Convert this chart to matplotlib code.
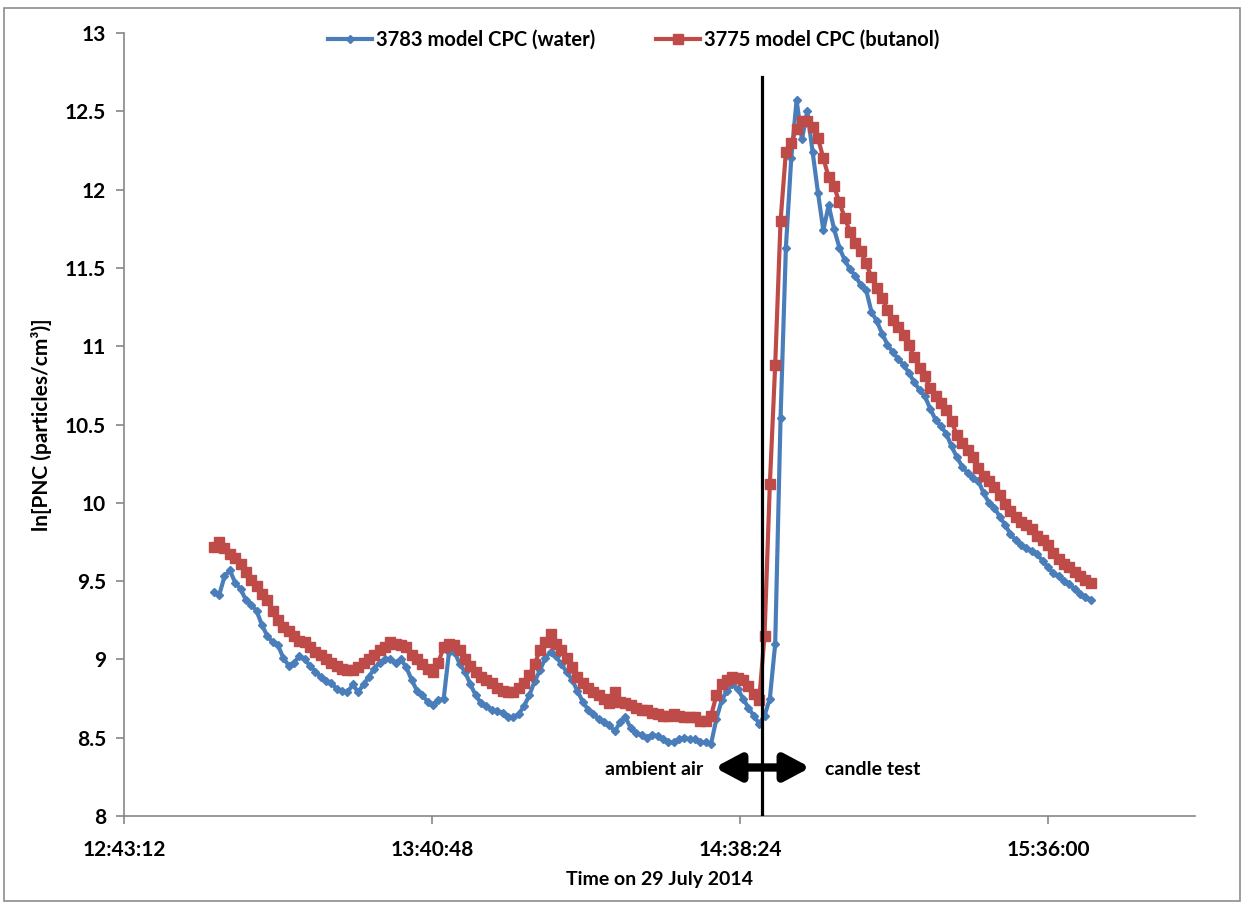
import pandas as pd
import matplotlib
matplotlib.use('Agg')
import matplotlib.pyplot as plt
import matplotlib.dates as mdates
from matplotlib.patches import Rectangle

plt.rcParams['font.family'] = ['Lato', 'DejaVu Sans']
plt.rcParams['font.weight'] = 'bold'
plt.rcParams['font.size'] = 14

# one reading per minute from 13:00
start_time = '2014-07-29 13:00:00'

water_ln = [
    9.43, 9.41, 9.53, 9.57, 9.49, 9.45, 9.38, 9.35, 9.31, 9.22,
    9.15, 9.11, 9.09, 9.01, 8.96, 8.98, 9.02, 9.00, 8.96, 8.92,
    8.89, 8.86, 8.85, 8.81, 8.80, 8.79, 8.84, 8.79, 8.84, 8.89,
    8.94, 8.98, 9.00, 9.00, 8.98, 9.00, 8.95, 8.87, 8.80, 8.77,
    8.73, 8.71, 8.74, 8.75, 9.05, 9.05, 8.97, 8.92, 8.84, 8.77,
    8.72, 8.70, 8.68, 8.67, 8.66, 8.63, 8.63, 8.65, 8.70, 8.77,
    8.86, 8.93, 9.01, 9.05, 9.02, 8.97, 8.92, 8.87, 8.80, 8.73,
    8.68, 8.65, 8.62, 8.60, 8.58, 8.54, 8.60, 8.63, 8.56, 8.53,
    8.52, 8.50, 8.52, 8.51, 8.49, 8.47, 8.47, 8.49, 8.50, 8.49,
    8.49, 8.47, 8.47, 8.46, 8.62, 8.74, 8.80, 8.84, 8.81, 8.75,
    8.69, 8.64, 8.59, 8.64, 8.75, 9.10, 10.54, 11.63, 12.20, 12.57,
    12.32, 12.50, 12.24, 11.98, 11.74, 11.90, 11.75, 11.63, 11.55, 11.49,
    11.45, 11.39, 11.36, 11.22, 11.16, 11.08, 11.01, 10.96, 10.92, 10.88,
    10.83, 10.77, 10.72, 10.68, 10.60, 10.53, 10.49, 10.44, 10.36, 10.29,
    10.23, 10.19, 10.16, 10.14, 10.06, 10.00, 9.97, 9.91, 9.86, 9.80,
    9.76, 9.73, 9.71, 9.69, 9.67, 9.63, 9.59, 9.55, 9.53, 9.50,
    9.48, 9.45, 9.42, 9.40, 9.38,
]

butanol_ln = [
    9.72, 9.75, 9.71, 9.67, 9.65, 9.61, 9.56, 9.51, 9.47, 9.42,
    9.38, 9.31, 9.25, 9.21, 9.18, 9.15, 9.12, 9.11, 9.08, 9.05,
    9.03, 9.00, 8.98, 8.96, 8.94, 8.93, 8.93, 8.95, 8.98, 9.00,
    9.03, 9.06, 9.08, 9.11, 9.10, 9.09, 9.08, 9.03, 9.00, 8.97,
    8.94, 8.92, 8.98, 9.08, 9.10, 9.09, 9.06, 9.00, 8.96, 8.92,
    8.89, 8.87, 8.85, 8.82, 8.80, 8.79, 8.79, 8.82, 8.85, 8.90,
    8.97, 9.06, 9.11, 9.16, 9.10, 9.06, 9.01, 8.95, 8.89, 8.85,
    8.82, 8.79, 8.77, 8.75, 8.72, 8.79, 8.73, 8.72, 8.71, 8.69,
    8.68, 8.68, 8.66, 8.65, 8.64, 8.64, 8.65, 8.64, 8.63, 8.63,
    8.63, 8.61, 8.61, 8.64, 8.77, 8.84, 8.87, 8.89, 8.88, 8.87,
    8.83, 8.78, 8.74, 9.15, 10.12, 10.88, 11.80, 12.24, 12.30, 12.39,
    12.44, 12.44, 12.40, 12.33, 12.20, 12.08, 12.02, 11.92, 11.82, 11.73,
    11.66, 11.61, 11.53, 11.44, 11.37, 11.31, 11.23, 11.17, 11.12, 11.07,
    11.01, 10.93, 10.86, 10.81, 10.73, 10.68, 10.64, 10.59, 10.52, 10.43,
    10.38, 10.34, 10.29, 10.22, 10.17, 10.14, 10.10, 10.05, 9.99, 9.95,
    9.91, 9.88, 9.86, 9.83, 9.79, 9.76, 9.73, 9.68, 9.64, 9.61,
    9.59, 9.56, 9.53, 9.51, 9.49,
]

tick_times = ['12:43:12', '13:40:48', '14:38:24', '15:36:00']
candle_start = '14:42:30'

day = '2014-07-29 '
times = pd.date_range(start_time, periods=len(water_ln), freq='1min')

fig = plt.figure(figsize=(12.46, 9.06), dpi=100)
ax = fig.add_axes([0.0995, 0.0993, 0.8595, 0.8643])

ax.plot(times, water_ln, color='#4A7EBB', lw=3, marker='D', ms=4.5,
        label='3783 model CPC (water)', zorder=3)
ax.plot(times, butanol_ln, color='#BE4B48', lw=3, marker='s', ms=6.5,
        label='3775 model CPC (butanol)', zorder=4)

# start of the candle test
t_line = pd.Timestamp(day + candle_start)
ax.plot([t_line, t_line], [8, 12.72], color='black', lw=2.3, zorder=6)

# ambient / candle arrow
ax.annotate('', xy=(pd.Timestamp(day + '14:33:40'), 8.31),
            xytext=(pd.Timestamp(day + '14:51:35'), 8.31),
            arrowprops=dict(arrowstyle='<|-|>,head_length=0.75,head_width=0.4',
                            lw=6, color='black', mutation_scale=20,
                            shrinkA=0, shrinkB=0), zorder=7)
ax.text(pd.Timestamp(day + '14:31:30'), 8.30, 'ambient air', ha='right', va='center',
        fontsize=14, fontweight='bold')
ax.text(pd.Timestamp(day + '14:54:20'), 8.30, 'candle test', ha='left', va='center',
        fontsize=14, fontweight='bold')

ax.set_xlim(pd.Timestamp(day + '12:43:12'), pd.Timestamp(day + '16:03:30'))
ax.set_ylim(8, 13)
ax.set_xticks([pd.Timestamp(day + t) for t in tick_times])
ax.xaxis.set_major_formatter(mdates.DateFormatter('%H:%M:%S'))
ax.set_yticks([8 + 0.5 * i for i in range(11)])
ax.set_yticklabels(['8', '8.5', '9', '9.5', '10', '10.5', '11', '11.5', '12', '12.5', '13'])

for s in ['top', 'right']:
    ax.spines[s].set_visible(False)
for s in ['left', 'bottom']:
    ax.spines[s].set_color('#868686')
    ax.spines[s].set_linewidth(1.2)
ax.tick_params(axis='both', color='#868686', length=6, width=1.2, labelsize=15)
ax.tick_params(axis='y', pad=7)
ax.tick_params(axis='x', pad=11)

ax.set_xlabel('Time on 29 July 2014', fontsize=14, fontweight='bold', labelpad=8)
ax.set_ylabel('ln[PNC (particles/cm³)]', fontsize=15, fontweight='bold', labelpad=9)

fig.legend(loc='center', bbox_to_anchor=(634 / 1246, 1 - 40 / 906), ncol=2,
           frameon=False, fontsize=14.5, handlelength=2.2, columnspacing=3.0,
           handletextpad=0.2)

# outer chart border
fig.patches.append(Rectangle((4 / 1246, 5 / 906), 1236 / 1246, 893 / 906,
                             transform=fig.transFigure, fill=False,
                             edgecolor='#8C8C8C', lw=1.2))

fig.savefig('out.png', dpi=100)
